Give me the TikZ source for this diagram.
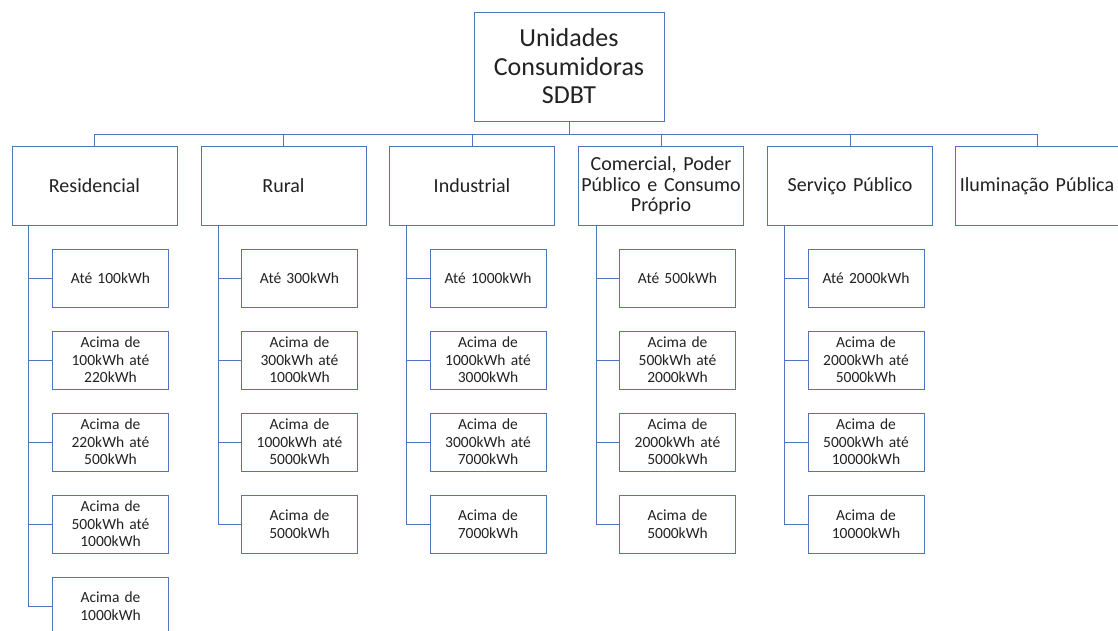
\documentclass[tikz,border=0pt]{standalone}
\usepackage{fontspec}
\setmainfont{Carlito}
\definecolor{linkblue}{RGB}{80,116,190}
\definecolor{inktext}{RGB}{34,34,34}
\tikzset{
  x=1pt, y=-1pt,
  box/.style={draw=linkblue, line width=0.9pt, fill=white, rectangle,
    align=center, text=inktext, inner sep=2pt},
  rootbox/.style={box, minimum width=190, minimum height=109,
    font=\fontsize{26}{28.5}\selectfont},
  groupbox/.style={box, minimum width=165, minimum height=79,
    text width=160, font=\fontsize{20}{20.5}\selectfont},
  tierbox/.style={box, minimum width=116, minimum height=58,
    text width=108, font=\fontsize{15.5}{17.5}\selectfont},
  link/.style={draw=linkblue, line width=0.9pt},
}
\begin{document}
\begin{tikzpicture}
\clip (0,0) rectangle (1118,630);
\fill[white] (0,0) rectangle (1118,630);

% root
\node[rootbox] (root) at (569,66.5) {Unidades\\Consumidoras\\SDBT};

% consumer classes
\node[groupbox] (res) at (94.5,186) {Residencial};
\node[groupbox] (rur) at (283.5,186) {Rural};
\node[groupbox] (ind) at (472,186) {Industrial};
\node[groupbox] (com) at (661,186) {Comercial, Poder\\Público e Consumo\\Próprio};
\node[groupbox] (ser) at (850,186) {Serviço Público};
\node[groupbox, minimum width=160, text width=160] (ilu) at (1037,186) {Iluminação Pública};

% bus under the root
\coordinate (busL) at (94.5,134);
\coordinate (busR) at (1037,134);
\draw[link] (busL) -- (busR);
\draw[link] (root.south) -- (root.south |- busL);
\foreach \g in {res,rur,ind,com,ser,ilu}
  \draw[link] (\g.north) -- (\g.north |- busL);

% Residencial tiers
\node[tierbox] (res1) at (110.5,278) {Até 100kWh};
\node[tierbox] (res2) at (110.5,360) {Acima de\\100kWh até\\220kWh};
\node[tierbox] (res3) at (110.5,442) {Acima de\\220kWh até\\500kWh};
\node[tierbox] (res4) at (110.5,524) {Acima de\\500kWh até\\1000kWh};
\node[tierbox] (res5) at (110.5,606) {Acima de\\1000kWh};

% Rural tiers
\node[tierbox] (rur1) at (299.5,278) {Até 300kWh};
\node[tierbox] (rur2) at (299.5,360) {Acima de\\300kWh até\\1000kWh};
\node[tierbox] (rur3) at (299.5,442) {Acima de\\1000kWh até\\5000kWh};
\node[tierbox] (rur4) at (299.5,524) {Acima de\\5000kWh};

% Industrial tiers
\node[tierbox] (ind1) at (488,278) {Até 1000kWh};
\node[tierbox] (ind2) at (488,360) {Acima de\\1000kWh até\\3000kWh};
\node[tierbox] (ind3) at (488,442) {Acima de\\3000kWh até\\7000kWh};
\node[tierbox] (ind4) at (488,524) {Acima de\\7000kWh};

% Comercial tiers
\node[tierbox] (com1) at (677.5,278) {Até 500kWh};
\node[tierbox] (com2) at (677.5,360) {Acima de\\500kWh até\\2000kWh};
\node[tierbox] (com3) at (677.5,442) {Acima de\\2000kWh até\\5000kWh};
\node[tierbox] (com4) at (677.5,524) {Acima de\\5000kWh};

% Servico Publico tiers
\node[tierbox] (ser1) at (866,278) {Até 2000kWh};
\node[tierbox] (ser2) at (866,360) {Acima de\\2000kWh até\\5000kWh};
\node[tierbox] (ser3) at (866,442) {Acima de\\5000kWh até\\10000kWh};
\node[tierbox] (ser4) at (866,524) {Acima de\\10000kWh};

% spines from each class down to its tiers
\coordinate (resS) at (28.5,0);
\coordinate (rurS) at (218,0);
\coordinate (indS) at (406,0);
\coordinate (comS) at (596,0);
\coordinate (serS) at (784,0);
\foreach \t in {1,...,5}
  \draw[link] (res.south -| resS) |- (res\t.west);
\foreach \g in {rur,ind,com,ser}
  \foreach \t in {1,...,4}
    \draw[link] (\g.south -| \g S) |- (\g\t.west);
\end{tikzpicture}
\end{document}
